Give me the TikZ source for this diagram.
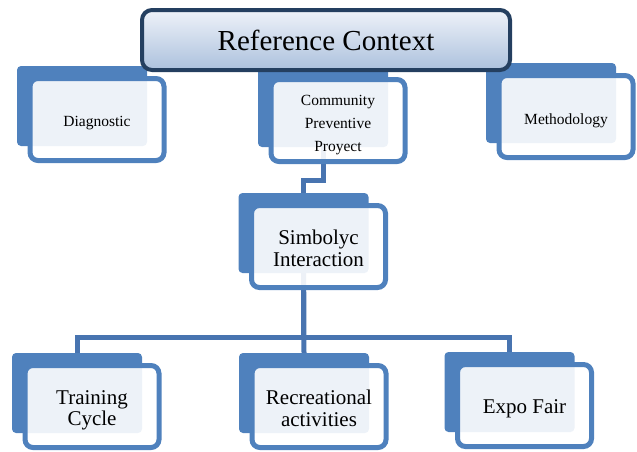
\documentclass[tikz,border=0pt]{standalone}
\usepackage{fontspec}
\setmainfont{Liberation Serif}
\usetikzlibrary{positioning,backgrounds}

\definecolor{accblue}{RGB}{79,129,189}
\definecolor{connblue}{RGB}{72,116,176}
\definecolor{navy}{RGB}{36,63,96}
\definecolor{toplight}{RGB}{238,242,249}
\definecolor{topdark}{RGB}{172,193,221}

\tikzset{
  backbox/.style={fill=accblue, rounded corners=4pt, minimum width=130pt,
    minimum height=80pt, inner sep=0pt},
  framebox/.style={draw=accblue, line width=5pt, fill=white, fill opacity=0.9,
    rounded corners=8pt, minimum width=134pt, minimum height=82pt, inner sep=0pt},
  small text/.style={align=center, font=\fontsize{15.5}{23}\selectfont},
  big text/.style={align=center, font=\fontsize{21}{21.5}\selectfont},
  conn/.style={draw=connblue, line width=5pt},
}

\begin{document}
\begin{tikzpicture}[x=1pt,y=-1pt]
  \useasboundingbox (0,0) rectangle (637,451);

  % first level
  \node[backbox] (diagb) at (82,106) {};
  \node[framebox] (diag) at ([shift={(15,13.5)}]diagb.center) {};
  \node[small text] (diagt) at ([yshift=-4pt]diag.center) {Diagnostic};
  \node[backbox] (cppb) at (323,107) {};
  \node[framebox] (cpp) at ([shift={(15,13.5)}]cppb.center) {};
  \node[small text] (cppt) at ([yshift=-4.5pt]cpp.center) {Community\\Preventive\\Proyect};
  \node[backbox] (methb) at (551,103) {};
  \node[framebox] (meth) at ([shift={(15,13.5)}]methb.center) {};
  \node[small text] (metht) at ([yshift=-4pt]meth.center) {Methodology};

  % middle
  \node[backbox] (sib) at (303.5,233) {};
  \node[framebox] (si) at ([shift={(15,13.5)}]sib.center) {};
  \node[big text] (sit) at ([yshift=-2pt]si.center) {Simbolyc\\Interaction};

  % bottom level
  \node[backbox] (trb) at (77,393) {};
  \node[framebox] (tr) at ([shift={(15,13.5)}]trb.center) {};
  \node[big text] (trt) at ([yshift=-4pt]tr.center) {Training\\Cycle};
  \node[backbox] (recb) at (304,393) {};
  \node[framebox] (rec) at ([shift={(15,13.5)}]recb.center) {};
  \node[big text] (rect) at ([yshift=-2pt]rec.center) {Recreational\\activities};
  \node[backbox] (expb) at (509.5,392) {};
  \node[framebox] (exp) at ([shift={(15,13.5)}]expb.center) {};
  \node[big text] (expt) at ([yshift=-3pt]exp.center) {Expo Fair};

  \node[draw=navy, line width=4pt, rounded corners=10pt, top color=toplight,
    bottom color=topdark, minimum width=368pt, minimum height=60pt,
    font=\fontsize{29}{32}\selectfont] (ctx) at (326,40) {Reference Context};

  \coordinate (bus1) at (0,180);
  \coordinate (bus2) at (0,337);
  \begin{scope}[on background layer]
    \draw[conn] (cppb.center) -- (cppb.center |- bus1) -| (sib.north);
    \draw[conn] (sib.center) -- (sib.center |- bus2) -| (trb.north);
    \draw[conn] (sib.center) -- (recb.north);
    \draw[conn] (sib.center) -- (sib.center |- bus2) -| (expb.north);
  \end{scope}
\end{tikzpicture}
\end{document}
